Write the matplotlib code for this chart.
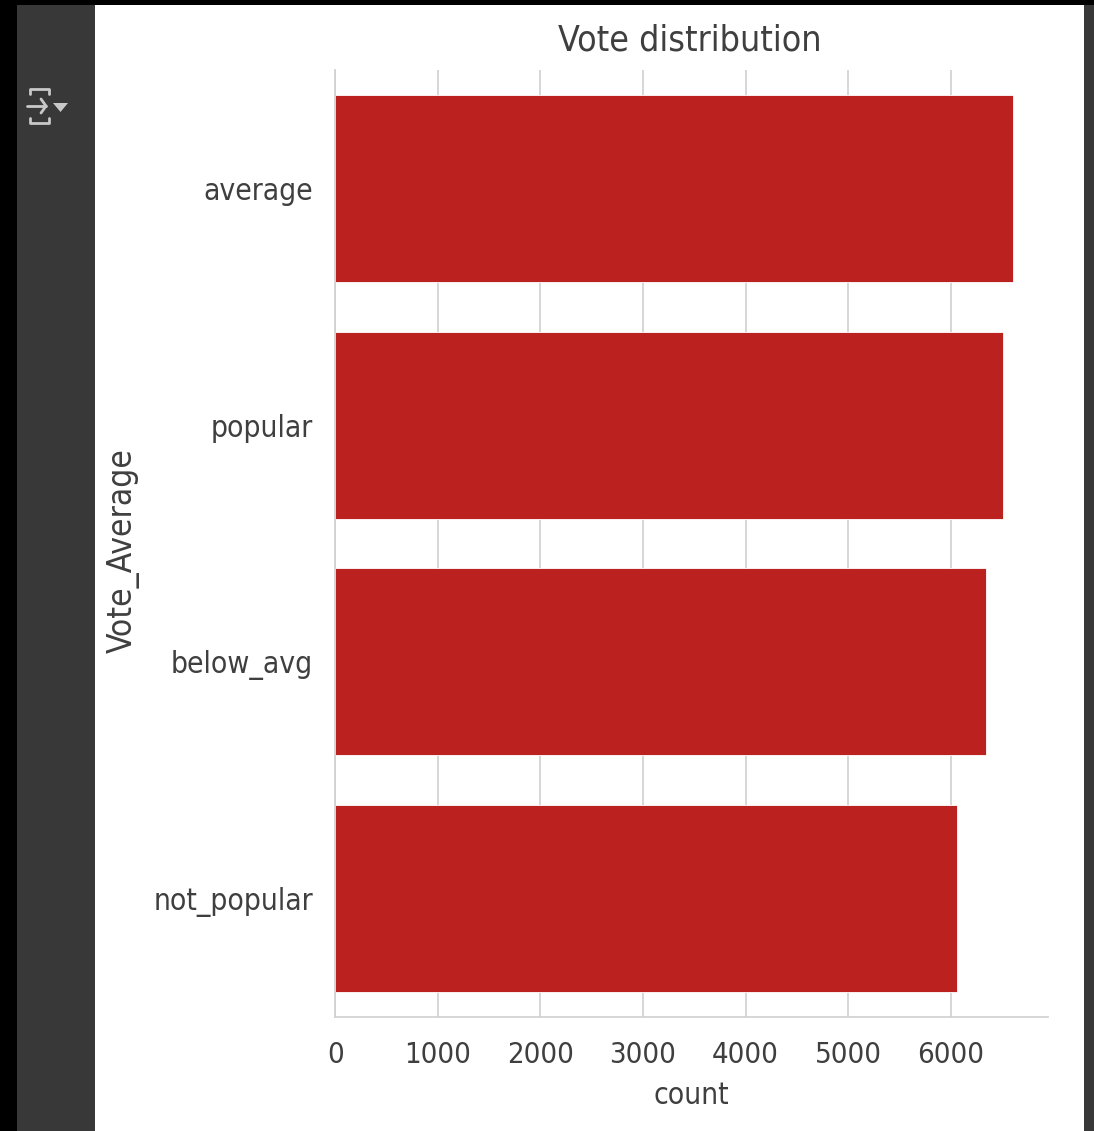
import matplotlib
matplotlib.use('Agg')
import matplotlib.pyplot as plt
from matplotlib.patches import Rectangle, Polygon
from matplotlib.lines import Line2D
from matplotlib import font_manager

# values
categories = ['average', 'popular', 'below_avg', 'not_popular']
counts = [6610, 6513, 6343, 6060]
xticks = [0, 1000, 2000, 3000, 4000, 5000, 6000]

W, H = 1094, 1131
text_col = '#3f3f3f'

# condensed DejaVu if the machine has it
names = [f.stretch for f in font_manager.fontManager.ttflist if f.name == 'DejaVu Sans']
stretch = 'condensed' if 'condensed' in names else 'normal'
plt.rcParams['font.family'] = ['DejaVu Sans']
plt.rcParams['font.stretch'] = stretch


def fx(x):
    return x / W


def fy(y):
    return 1 - y / H


fig = plt.figure(figsize=(W / 100, H / 100), dpi=100, facecolor='black')

# notebook background, kept behind the axes
fig.add_artist(Rectangle((fx(17), 0), (1084 - 17) / W, fy(5), transform=fig.transFigure, fc='#383838', ec='none', zorder=-3))
fig.add_artist(Rectangle((fx(95), 0), (1084 - 95) / W, fy(5), transform=fig.transFigure, fc='white', ec='none', zorder=-2))
fig.add_artist(Rectangle((fx(1084), 0), 10 / W, fy(5), transform=fig.transFigure, fc='#383838', ec='none', zorder=-2))

# output icon in the side strip
icon = '#c8c8c8'
icon_lines = [
    ([30, 30, 49, 49], [94, 89, 89, 94]),
    ([30, 30, 49, 49], [118, 123, 123, 118]),
    ([27, 46], [106, 106]),
    ([41, 46, 41], [99, 106, 113]),
]
for xs, ys in icon_lines:
    fig.add_artist(Line2D([fx(v) for v in xs], [fy(v) for v in ys], color=icon, lw=2.0,
                          transform=fig.transFigure, solid_capstyle='round'))
fig.add_artist(Polygon([(fx(53), fy(103)), (fx(68), fy(103)), (fx(60.5), fy(112))],
                       transform=fig.transFigure, fc=icon, ec='none'))

ax = fig.add_axes([fx(335.4), fy(1017), (1048 - 335.4) / W, (1017 - 70) / H])
ax.set_facecolor('white')
ax.barh(categories, counts, height=0.79, color='#bb211e', edgecolor='white', linewidth=0.6, zorder=2)
ax.set_ylim(3.5, -0.5)
ax.set_xlim(0, 6950)
ax.set_xticks(xticks)
ax.grid(axis='x', color='#cfcfcf', lw=1.2, zorder=0)
ax.set_axisbelow(True)
ax.tick_params(axis='both', length=0, colors=text_col)
ax.tick_params(axis='x', labelsize=21, pad=17)
ax.tick_params(axis='y', labelsize=21.5, pad=16)
for s in ['top', 'right']:
    ax.spines[s].set_visible(False)
for s in ['left', 'bottom']:
    ax.spines[s].set_color('#cfcfcf')
    ax.spines[s].set_linewidth(1.2)

ax.set_xlabel('count', fontsize=21.5, color=text_col, labelpad=9)
ax.set_ylabel('Vote_Average', fontsize=24, color=text_col)
ax.yaxis.set_label_coords(-0.274, 0.4925)
ax.set_title('Vote distribution', fontsize=25.7, color=text_col, pad=14, x=0.497)

fig.savefig('out.png', dpi=100, facecolor=fig.get_facecolor())
